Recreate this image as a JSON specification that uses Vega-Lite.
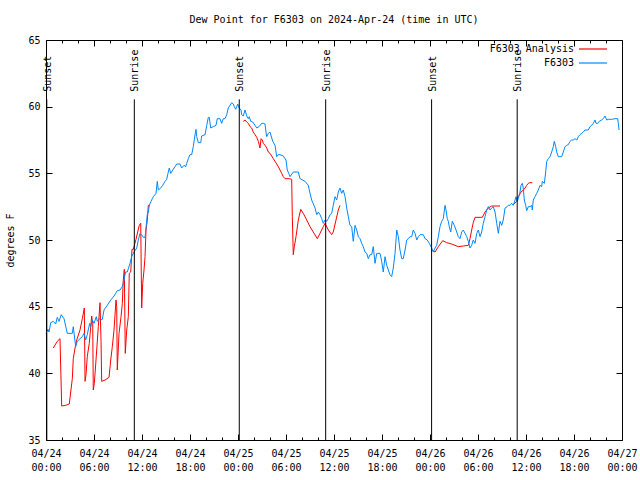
{
  "$schema": "https://vega.github.io/schema/vega-lite/v6.json",
  "width": 576,
  "height": 400,
  "autosize": {"type": "none"},
  "padding": {"left": 46, "top": 40, "right": 18, "bottom": 40},
  "background": "white",
  "title": {"text": "Dew Point for F6303 on 2024-Apr-24 (time in UTC)", "font": "DejaVu Sans Mono", "fontSize": 10, "fontWeight": "normal", "color": "black", "offset": 10},
  "config": {
    "view": {"stroke": "black", "strokeWidth": 1},
    "axis": {"domain": false, "grid": false, "labelFont": "DejaVu Sans Mono", "labelFontSize": 10, "labelColor": "black", "titleFont": "DejaVu Sans Mono", "titleFontSize": 10, "titleFontWeight": "normal", "titleColor": "black", "tickColor": "black"},
    "legend": {"labelFont": "DejaVu Sans Mono", "labelFontSize": 10, "labelColor": "black"}
  },
  "datasets": {
    "obs": [
      {"s":"F6303 Analysis","g":"a1","h":0.91,"v":41.9},{"s":"F6303 Analysis","g":"a1","h":1.41,"v":42.4},{"s":"F6303 Analysis","g":"a1","h":1.75,"v":42.6},{"s":"F6303 Analysis","g":"a1","h":1.96,"v":37.55},{"s":"F6303 Analysis","g":"a1","h":2.46,"v":37.6},{"s":"F6303 Analysis","g":"a1","h":2.91,"v":37.7},{"s":"F6303 Analysis","g":"a1","h":3.09,"v":38.6},{"s":"F6303 Analysis","g":"a1","h":3.29,"v":39.6},{"s":"F6303 Analysis","g":"a1","h":3.41,"v":41.1},{"s":"F6303 Analysis","g":"a1","h":3.63,"v":41.9},{"s":"F6303 Analysis","g":"a1","h":3.84,"v":42.5},{"s":"F6303 Analysis","g":"a1","h":4.25,"v":43.25},{"s":"F6303 Analysis","g":"a1","h":4.54,"v":44.1},{"s":"F6303 Analysis","g":"a1","h":4.79,"v":44.9},{"s":"F6303 Analysis","g":"a1","h":4.88,"v":39.4},{"s":"F6303 Analysis","g":"a1","h":5.0,"v":39.9},{"s":"F6303 Analysis","g":"a1","h":5.16,"v":41.25},{"s":"F6303 Analysis","g":"a1","h":5.41,"v":42.25},{"s":"F6303 Analysis","g":"a1","h":5.71,"v":44.3},{"s":"F6303 Analysis","g":"a1","h":5.84,"v":43.75},{"s":"F6303 Analysis","g":"a1","h":5.91,"v":38.75},{"s":"F6303 Analysis","g":"a1","h":6.04,"v":39.25},{"s":"F6303 Analysis","g":"a1","h":6.25,"v":41.0},{"s":"F6303 Analysis","g":"a1","h":6.54,"v":43.5},{"s":"F6303 Analysis","g":"a1","h":6.75,"v":45.3},{"s":"F6303 Analysis","g":"a1","h":6.88,"v":42.4},{"s":"F6303 Analysis","g":"a1","h":6.96,"v":39.4},{"s":"F6303 Analysis","g":"a1","h":7.38,"v":39.5},{"s":"F6303 Analysis","g":"a1","h":7.88,"v":39.7},{"s":"F6303 Analysis","g":"a1","h":8.09,"v":41.0},{"s":"F6303 Analysis","g":"a1","h":8.29,"v":42.0},{"s":"F6303 Analysis","g":"a1","h":8.5,"v":43.25},{"s":"F6303 Analysis","g":"a1","h":8.75,"v":45.5},{"s":"F6303 Analysis","g":"a1","h":8.84,"v":45.0},{"s":"F6303 Analysis","g":"a1","h":8.91,"v":40.25},{"s":"F6303 Analysis","g":"a1","h":9.13,"v":43.0},{"s":"F6303 Analysis","g":"a1","h":9.38,"v":44.25},{"s":"F6303 Analysis","g":"a1","h":9.54,"v":45.25},{"s":"F6303 Analysis","g":"a1","h":9.66,"v":47.0},{"s":"F6303 Analysis","g":"a1","h":9.79,"v":47.8},{"s":"F6303 Analysis","g":"a1","h":9.91,"v":41.5},{"s":"F6303 Analysis","g":"a1","h":10.09,"v":43.25},{"s":"F6303 Analysis","g":"a1","h":10.29,"v":44.25},{"s":"F6303 Analysis","g":"a1","h":10.41,"v":47.5},{"s":"F6303 Analysis","g":"a1","h":10.59,"v":47.6},{"s":"F6303 Analysis","g":"a1","h":10.75,"v":49.3},{"s":"F6303 Analysis","g":"a1","h":10.91,"v":49.3},{"s":"F6303 Analysis","g":"a1","h":11.09,"v":49.7},{"s":"F6303 Analysis","g":"a1","h":11.25,"v":50.05},{"s":"F6303 Analysis","g":"a1","h":11.46,"v":50.6},{"s":"F6303 Analysis","g":"a1","h":11.66,"v":51.1},{"s":"F6303 Analysis","g":"a1","h":11.84,"v":51.25},{"s":"F6303 Analysis","g":"a1","h":11.96,"v":44.9},{"s":"F6303 Analysis","g":"a1","h":12.09,"v":46.75},{"s":"F6303 Analysis","g":"a1","h":12.25,"v":47.75},{"s":"F6303 Analysis","g":"a1","h":12.38,"v":48.75},{"s":"F6303 Analysis","g":"a1","h":12.5,"v":50.75},{"s":"F6303 Analysis","g":"a1","h":12.66,"v":51.45},{"s":"F6303 Analysis","g":"a1","h":12.79,"v":52.6},{"s":"F6303 Analysis","g":"a1","h":13.0,"v":52.6},
      {"s":"F6303 Analysis","g":"a2","h":24.66,"v":58.9},{"s":"F6303 Analysis","g":"a2","h":24.88,"v":59.0},{"s":"F6303 Analysis","g":"a2","h":25.09,"v":58.85},{"s":"F6303 Analysis","g":"a2","h":25.29,"v":58.75},{"s":"F6303 Analysis","g":"a2","h":25.5,"v":58.5},{"s":"F6303 Analysis","g":"a2","h":25.71,"v":58.4},{"s":"F6303 Analysis","g":"a2","h":25.91,"v":58.1},{"s":"F6303 Analysis","g":"a2","h":26.13,"v":57.9},{"s":"F6303 Analysis","g":"a2","h":26.34,"v":57.7},{"s":"F6303 Analysis","g":"a2","h":26.54,"v":57.4},{"s":"F6303 Analysis","g":"a2","h":26.75,"v":56.9},{"s":"F6303 Analysis","g":"a2","h":26.88,"v":57.6},{"s":"F6303 Analysis","g":"a2","h":27.04,"v":57.5},{"s":"F6303 Analysis","g":"a2","h":27.16,"v":57.25},{"s":"F6303 Analysis","g":"a2","h":27.38,"v":57.1},{"s":"F6303 Analysis","g":"a2","h":27.59,"v":56.9},{"s":"F6303 Analysis","g":"a2","h":27.79,"v":56.6},{"s":"F6303 Analysis","g":"a2","h":28.0,"v":56.5},{"s":"F6303 Analysis","g":"a2","h":28.21,"v":56.3},{"s":"F6303 Analysis","g":"a2","h":28.41,"v":56.1},{"s":"F6303 Analysis","g":"a2","h":28.63,"v":55.9},{"s":"F6303 Analysis","g":"a2","h":28.84,"v":55.7},{"s":"F6303 Analysis","g":"a2","h":29.04,"v":55.5},{"s":"F6303 Analysis","g":"a2","h":29.25,"v":55.25},{"s":"F6303 Analysis","g":"a2","h":29.46,"v":55.0},{"s":"F6303 Analysis","g":"a2","h":29.66,"v":54.75},{"s":"F6303 Analysis","g":"a2","h":29.88,"v":54.6},{"s":"F6303 Analysis","g":"a2","h":30.41,"v":54.6},{"s":"F6303 Analysis","g":"a2","h":30.71,"v":54.55},{"s":"F6303 Analysis","g":"a2","h":30.79,"v":51.75},{"s":"F6303 Analysis","g":"a2","h":30.91,"v":48.9},{"s":"F6303 Analysis","g":"a2","h":31.04,"v":49.5},{"s":"F6303 Analysis","g":"a2","h":31.25,"v":50.25},{"s":"F6303 Analysis","g":"a2","h":31.54,"v":51.5},{"s":"F6303 Analysis","g":"a2","h":31.84,"v":52.3},{"s":"F6303 Analysis","g":"a2","h":32.16,"v":52.0},{"s":"F6303 Analysis","g":"a2","h":32.59,"v":51.5},{"s":"F6303 Analysis","g":"a2","h":33.0,"v":51.0},{"s":"F6303 Analysis","g":"a2","h":33.41,"v":50.6},{"s":"F6303 Analysis","g":"a2","h":33.91,"v":50.1},{"s":"F6303 Analysis","g":"a2","h":34.25,"v":50.5},{"s":"F6303 Analysis","g":"a2","h":34.66,"v":51.0},{"s":"F6303 Analysis","g":"a2","h":34.88,"v":51.25},{"s":"F6303 Analysis","g":"a2","h":35.29,"v":50.75},{"s":"F6303 Analysis","g":"a2","h":35.71,"v":50.4},{"s":"F6303 Analysis","g":"a2","h":35.91,"v":50.6},{"s":"F6303 Analysis","g":"a2","h":36.25,"v":51.5},{"s":"F6303 Analysis","g":"a2","h":36.54,"v":52.25},{"s":"F6303 Analysis","g":"a2","h":36.75,"v":52.6},
      {"s":"F6303 Analysis","g":"a3","h":48.34,"v":49.2},{"s":"F6303 Analysis","g":"a3","h":48.63,"v":49.1},{"s":"F6303 Analysis","g":"a3","h":49.04,"v":49.5},{"s":"F6303 Analysis","g":"a3","h":49.59,"v":49.95},{"s":"F6303 Analysis","g":"a3","h":50.09,"v":49.8},{"s":"F6303 Analysis","g":"a3","h":50.71,"v":49.7},{"s":"F6303 Analysis","g":"a3","h":51.54,"v":49.5},{"s":"F6303 Analysis","g":"a3","h":52.16,"v":49.55},{"s":"F6303 Analysis","g":"a3","h":52.79,"v":49.6},{"s":"F6303 Analysis","g":"a3","h":53.0,"v":50.1},{"s":"F6303 Analysis","g":"a3","h":53.21,"v":50.75},{"s":"F6303 Analysis","g":"a3","h":53.41,"v":51.3},{"s":"F6303 Analysis","g":"a3","h":53.63,"v":51.7},{"s":"F6303 Analysis","g":"a3","h":54.25,"v":51.7},{"s":"F6303 Analysis","g":"a3","h":54.54,"v":51.7},{"s":"F6303 Analysis","g":"a3","h":54.88,"v":52.1},{"s":"F6303 Analysis","g":"a3","h":55.29,"v":52.4},{"s":"F6303 Analysis","g":"a3","h":55.71,"v":52.55},{"s":"F6303 Analysis","g":"a3","h":56.75,"v":52.55},
      {"s":"F6303 Analysis","g":"a4","h":58.5,"v":52.7},{"s":"F6303 Analysis","g":"a4","h":58.84,"v":52.9},{"s":"F6303 Analysis","g":"a4","h":59.04,"v":53.25},{"s":"F6303 Analysis","g":"a4","h":59.38,"v":53.6},{"s":"F6303 Analysis","g":"a4","h":59.66,"v":53.75},{"s":"F6303 Analysis","g":"a4","h":59.88,"v":53.9},{"s":"F6303 Analysis","g":"a4","h":60.09,"v":54.1},{"s":"F6303 Analysis","g":"a4","h":60.29,"v":54.25},{"s":"F6303 Analysis","g":"a4","h":60.5,"v":54.3},{"s":"F6303 Analysis","g":"a4","h":60.79,"v":54.3},
      {"s":"F6303","g":"b","h":0.0,"v":43.0},{"s":"F6303","g":"b","h":0.25,"v":43.3},{"s":"F6303","g":"b","h":0.38,"v":43.1},{"s":"F6303","g":"b","h":0.59,"v":43.8},{"s":"F6303","g":"b","h":0.91,"v":43.9},{"s":"F6303","g":"b","h":1.21,"v":43.7},{"s":"F6303","g":"b","h":1.41,"v":44.2},{"s":"F6303","g":"b","h":1.63,"v":43.9},{"s":"F6303","g":"b","h":1.91,"v":44.4},{"s":"F6303","g":"b","h":2.25,"v":44.1},{"s":"F6303","g":"b","h":2.66,"v":43.0},{"s":"F6303","g":"b","h":3.29,"v":43.0},{"s":"F6303","g":"b","h":3.41,"v":43.5},{"s":"F6303","g":"b","h":3.71,"v":42.0},{"s":"F6303","g":"b","h":3.91,"v":42.4},{"s":"F6303","g":"b","h":4.25,"v":42.6},{"s":"F6303","g":"b","h":4.54,"v":42.75},{"s":"F6303","g":"b","h":4.75,"v":43.0},{"s":"F6303","g":"b","h":4.96,"v":42.5},{"s":"F6303","g":"b","h":5.16,"v":42.9},{"s":"F6303","g":"b","h":5.46,"v":43.75},{"s":"F6303","g":"b","h":5.59,"v":43.5},{"s":"F6303","g":"b","h":5.79,"v":44.0},{"s":"F6303","g":"b","h":6.0,"v":43.75},{"s":"F6303","g":"b","h":6.29,"v":44.25},{"s":"F6303","g":"b","h":6.41,"v":43.9},{"s":"F6303","g":"b","h":6.63,"v":44.1},{"s":"F6303","g":"b","h":6.84,"v":44.0},{"s":"F6303","g":"b","h":7.04,"v":44.05},{"s":"F6303","g":"b","h":7.25,"v":44.75},{"s":"F6303","g":"b","h":7.66,"v":45.1},{"s":"F6303","g":"b","h":8.09,"v":45.5},{"s":"F6303","g":"b","h":8.5,"v":45.8},{"s":"F6303","g":"b","h":8.71,"v":46.0},{"s":"F6303","g":"b","h":8.91,"v":46.2},{"s":"F6303","g":"b","h":9.25,"v":46.25},{"s":"F6303","g":"b","h":9.54,"v":46.5},{"s":"F6303","g":"b","h":9.75,"v":47.0},{"s":"F6303","g":"b","h":9.94,"v":47.6},{"s":"F6303","g":"b","h":10.16,"v":47.6},{"s":"F6303","g":"b","h":10.5,"v":48.25},{"s":"F6303","g":"b","h":10.71,"v":48.75},{"s":"F6303","g":"b","h":11.0,"v":49.1},{"s":"F6303","g":"b","h":11.34,"v":49.4},{"s":"F6303","g":"b","h":11.54,"v":50.0},{"s":"F6303","g":"b","h":11.75,"v":50.5},{"s":"F6303","g":"b","h":11.96,"v":50.4},{"s":"F6303","g":"b","h":12.16,"v":50.2},{"s":"F6303","g":"b","h":12.38,"v":50.2},{"s":"F6303","g":"b","h":12.5,"v":50.9},{"s":"F6303","g":"b","h":12.66,"v":51.9},{"s":"F6303","g":"b","h":12.79,"v":52.1},{"s":"F6303","g":"b","h":12.91,"v":52.6},{"s":"F6303","g":"b","h":13.13,"v":52.9},{"s":"F6303","g":"b","h":13.29,"v":53.1},{"s":"F6303","g":"b","h":13.41,"v":53.25},{"s":"F6303","g":"b","h":13.75,"v":53.5},{"s":"F6303","g":"b","h":13.91,"v":54.4},{"s":"F6303","g":"b","h":14.04,"v":53.75},{"s":"F6303","g":"b","h":14.34,"v":53.9},{"s":"F6303","g":"b","h":14.59,"v":54.1},{"s":"F6303","g":"b","h":14.88,"v":54.4},{"s":"F6303","g":"b","h":15.09,"v":54.55},{"s":"F6303","g":"b","h":15.21,"v":54.9},{"s":"F6303","g":"b","h":15.41,"v":55.4},{"s":"F6303","g":"b","h":15.59,"v":55.0},{"s":"F6303","g":"b","h":15.84,"v":55.25},{"s":"F6303","g":"b","h":16.13,"v":55.5},{"s":"F6303","g":"b","h":16.34,"v":55.7},{"s":"F6303","g":"b","h":16.75,"v":55.7},{"s":"F6303","g":"b","h":16.96,"v":55.4},{"s":"F6303","g":"b","h":17.25,"v":55.6},{"s":"F6303","g":"b","h":17.46,"v":55.5},{"s":"F6303","g":"b","h":17.59,"v":55.75},{"s":"F6303","g":"b","h":17.79,"v":56.1},{"s":"F6303","g":"b","h":18.0,"v":56.4},{"s":"F6303","g":"b","h":18.21,"v":56.4},{"s":"F6303","g":"b","h":18.41,"v":57.0},{"s":"F6303","g":"b","h":18.63,"v":57.9},{"s":"F6303","g":"b","h":18.75,"v":58.3},{"s":"F6303","g":"b","h":18.84,"v":57.75},{"s":"F6303","g":"b","h":19.04,"v":57.3},{"s":"F6303","g":"b","h":19.34,"v":57.3},{"s":"F6303","g":"b","h":19.46,"v":57.8},{"s":"F6303","g":"b","h":19.88,"v":57.9},{"s":"F6303","g":"b","h":20.09,"v":58.6},{"s":"F6303","g":"b","h":20.29,"v":59.2},{"s":"F6303","g":"b","h":20.41,"v":59.2},{"s":"F6303","g":"b","h":20.59,"v":58.4},{"s":"F6303","g":"b","h":20.91,"v":58.5},{"s":"F6303","g":"b","h":21.25,"v":58.6},{"s":"F6303","g":"b","h":21.41,"v":59.1},{"s":"F6303","g":"b","h":21.75,"v":59.1},{"s":"F6303","g":"b","h":21.96,"v":58.75},{"s":"F6303","g":"b","h":22.16,"v":59.1},{"s":"F6303","g":"b","h":22.38,"v":59.1},{"s":"F6303","g":"b","h":22.59,"v":59.4},{"s":"F6303","g":"b","h":22.79,"v":59.9},{"s":"F6303","g":"b","h":23.0,"v":60.1},{"s":"F6303","g":"b","h":23.21,"v":60.3},{"s":"F6303","g":"b","h":23.41,"v":60.2},{"s":"F6303","g":"b","h":23.54,"v":60.0},{"s":"F6303","g":"b","h":23.71,"v":59.8},{"s":"F6303","g":"b","h":23.84,"v":60.0},{"s":"F6303","g":"b","h":23.96,"v":60.2},{"s":"F6303","g":"b","h":24.16,"v":59.9},{"s":"F6303","g":"b","h":24.38,"v":59.75},{"s":"F6303","g":"b","h":24.46,"v":59.4},{"s":"F6303","g":"b","h":24.66,"v":59.3},{"s":"F6303","g":"b","h":24.88,"v":59.75},{"s":"F6303","g":"b","h":25.09,"v":59.3},{"s":"F6303","g":"b","h":25.29,"v":59.1},{"s":"F6303","g":"b","h":25.41,"v":59.25},{"s":"F6303","g":"b","h":25.59,"v":58.9},{"s":"F6303","g":"b","h":25.84,"v":58.85},{"s":"F6303","g":"b","h":26.13,"v":58.6},{"s":"F6303","g":"b","h":26.34,"v":58.4},{"s":"F6303","g":"b","h":26.63,"v":58.5},{"s":"F6303","g":"b","h":26.96,"v":58.75},{"s":"F6303","g":"b","h":27.16,"v":58.75},{"s":"F6303","g":"b","h":27.38,"v":58.7},{"s":"F6303","g":"b","h":27.5,"v":58.1},{"s":"F6303","g":"b","h":27.59,"v":57.75},{"s":"F6303","g":"b","h":27.79,"v":58.0},{"s":"F6303","g":"b","h":28.0,"v":58.1},{"s":"F6303","g":"b","h":28.34,"v":57.4},{"s":"F6303","g":"b","h":28.63,"v":57.1},{"s":"F6303","g":"b","h":28.84,"v":56.25},{"s":"F6303","g":"b","h":29.04,"v":56.4},{"s":"F6303","g":"b","h":29.25,"v":56.4},{"s":"F6303","g":"b","h":29.66,"v":56.3},{"s":"F6303","g":"b","h":30.0,"v":56.0},{"s":"F6303","g":"b","h":30.16,"v":55.25},{"s":"F6303","g":"b","h":30.41,"v":54.9},{"s":"F6303","g":"b","h":30.5,"v":54.75},{"s":"F6303","g":"b","h":30.91,"v":55.1},{"s":"F6303","g":"b","h":31.54,"v":55.1},{"s":"F6303","g":"b","h":31.75,"v":54.6},{"s":"F6303","g":"b","h":32.38,"v":54.4},{"s":"F6303","g":"b","h":32.79,"v":54.1},{"s":"F6303","g":"b","h":33.0,"v":53.5},{"s":"F6303","g":"b","h":33.21,"v":53.0},{"s":"F6303","g":"b","h":33.63,"v":52.4},{"s":"F6303","g":"b","h":33.84,"v":51.9},{"s":"F6303","g":"b","h":34.04,"v":52.1},{"s":"F6303","g":"b","h":34.25,"v":51.9},{"s":"F6303","g":"b","h":34.46,"v":51.6},{"s":"F6303","g":"b","h":34.66,"v":51.25},{"s":"F6303","g":"b","h":34.88,"v":51.5},{"s":"F6303","g":"b","h":35.09,"v":51.4},{"s":"F6303","g":"b","h":35.29,"v":51.6},{"s":"F6303","g":"b","h":35.5,"v":51.9},{"s":"F6303","g":"b","h":35.71,"v":52.0},{"s":"F6303","g":"b","h":35.91,"v":52.6},{"s":"F6303","g":"b","h":36.13,"v":53.25},{"s":"F6303","g":"b","h":36.34,"v":53.0},{"s":"F6303","g":"b","h":36.54,"v":53.6},{"s":"F6303","g":"b","h":36.75,"v":53.9},{"s":"F6303","g":"b","h":36.96,"v":53.5},{"s":"F6303","g":"b","h":37.16,"v":53.75},{"s":"F6303","g":"b","h":37.38,"v":53.25},{"s":"F6303","g":"b","h":37.59,"v":52.4},{"s":"F6303","g":"b","h":37.79,"v":51.75},{"s":"F6303","g":"b","h":38.0,"v":51.1},{"s":"F6303","g":"b","h":38.21,"v":51.0},{"s":"F6303","g":"b","h":38.41,"v":49.9},{"s":"F6303","g":"b","h":38.63,"v":51.1},{"s":"F6303","g":"b","h":38.84,"v":50.75},{"s":"F6303","g":"b","h":39.04,"v":50.25},{"s":"F6303","g":"b","h":39.25,"v":50.1},{"s":"F6303","g":"b","h":39.46,"v":49.75},{"s":"F6303","g":"b","h":39.66,"v":49.5},{"s":"F6303","g":"b","h":39.88,"v":49.1},{"s":"F6303","g":"b","h":40.09,"v":49.0},{"s":"F6303","g":"b","h":40.29,"v":48.6},{"s":"F6303","g":"b","h":40.5,"v":48.9},{"s":"F6303","g":"b","h":40.71,"v":48.9},{"s":"F6303","g":"b","h":40.91,"v":49.5},{"s":"F6303","g":"b","h":41.13,"v":48.25},{"s":"F6303","g":"b","h":41.34,"v":49.0},{"s":"F6303","g":"b","h":41.75,"v":49.0},{"s":"F6303","g":"b","h":41.96,"v":48.4},{"s":"F6303","g":"b","h":42.16,"v":47.6},{"s":"F6303","g":"b","h":42.38,"v":48.75},{"s":"F6303","g":"b","h":42.59,"v":48.1},{"s":"F6303","g":"b","h":42.79,"v":47.75},{"s":"F6303","g":"b","h":43.0,"v":47.4},{"s":"F6303","g":"b","h":43.21,"v":47.25},{"s":"F6303","g":"b","h":43.41,"v":47.9},{"s":"F6303","g":"b","h":43.63,"v":49.0},{"s":"F6303","g":"b","h":43.84,"v":50.75},{"s":"F6303","g":"b","h":44.04,"v":50.25},{"s":"F6303","g":"b","h":44.25,"v":49.25},{"s":"F6303","g":"b","h":44.46,"v":48.6},{"s":"F6303","g":"b","h":44.66,"v":48.6},{"s":"F6303","g":"b","h":44.88,"v":49.25},{"s":"F6303","g":"b","h":45.09,"v":50.0},{"s":"F6303","g":"b","h":45.29,"v":50.1},{"s":"F6303","g":"b","h":45.5,"v":50.25},{"s":"F6303","g":"b","h":45.71,"v":50.25},{"s":"F6303","g":"b","h":45.91,"v":50.75},{"s":"F6303","g":"b","h":46.13,"v":50.5},{"s":"F6303","g":"b","h":46.34,"v":50.0},{"s":"F6303","g":"b","h":46.54,"v":50.25},{"s":"F6303","g":"b","h":46.75,"v":50.4},{"s":"F6303","g":"b","h":47.16,"v":50.4},{"s":"F6303","g":"b","h":47.38,"v":50.1},{"s":"F6303","g":"b","h":47.66,"v":50.0},{"s":"F6303","g":"b","h":47.91,"v":49.75},{"s":"F6303","g":"b","h":48.21,"v":49.4},{"s":"F6303","g":"b","h":48.41,"v":49.1},{"s":"F6303","g":"b","h":48.63,"v":49.4},{"s":"F6303","g":"b","h":48.84,"v":49.6},{"s":"F6303","g":"b","h":49.04,"v":50.25},{"s":"F6303","g":"b","h":49.25,"v":51.0},{"s":"F6303","g":"b","h":49.46,"v":51.4},{"s":"F6303","g":"b","h":49.66,"v":51.6},{"s":"F6303","g":"b","h":49.88,"v":52.6},{"s":"F6303","g":"b","h":50.0,"v":52.25},{"s":"F6303","g":"b","h":50.16,"v":51.6},{"s":"F6303","g":"b","h":50.29,"v":51.4},{"s":"F6303","g":"b","h":50.41,"v":51.0},{"s":"F6303","g":"b","h":50.59,"v":50.6},{"s":"F6303","g":"b","h":50.79,"v":51.4},{"s":"F6303","g":"b","h":51.04,"v":51.1},{"s":"F6303","g":"b","h":51.25,"v":50.75},{"s":"F6303","g":"b","h":51.54,"v":50.25},{"s":"F6303","g":"b","h":51.75,"v":50.1},{"s":"F6303","g":"b","h":51.96,"v":50.6},{"s":"F6303","g":"b","h":52.16,"v":50.75},{"s":"F6303","g":"b","h":52.38,"v":50.5},{"s":"F6303","g":"b","h":52.59,"v":50.25},{"s":"F6303","g":"b","h":52.79,"v":49.9},{"s":"F6303","g":"b","h":53.0,"v":49.4},{"s":"F6303","g":"b","h":53.21,"v":49.6},{"s":"F6303","g":"b","h":53.41,"v":50.0},{"s":"F6303","g":"b","h":53.63,"v":49.75},{"s":"F6303","g":"b","h":53.84,"v":50.5},{"s":"F6303","g":"b","h":54.04,"v":50.75},{"s":"F6303","g":"b","h":54.25,"v":50.25},{"s":"F6303","g":"b","h":54.46,"v":50.6},{"s":"F6303","g":"b","h":54.66,"v":51.25},{"s":"F6303","g":"b","h":54.88,"v":51.75},{"s":"F6303","g":"b","h":55.09,"v":52.25},{"s":"F6303","g":"b","h":55.29,"v":52.5},{"s":"F6303","g":"b","h":55.5,"v":52.25},{"s":"F6303","g":"b","h":55.71,"v":52.4},{"s":"F6303","g":"b","h":55.91,"v":52.5},{"s":"F6303","g":"b","h":56.13,"v":52.1},{"s":"F6303","g":"b","h":56.34,"v":51.25},{"s":"F6303","g":"b","h":56.54,"v":50.5},{"s":"F6303","g":"b","h":56.75,"v":51.4},{"s":"F6303","g":"b","h":56.96,"v":51.1},{"s":"F6303","g":"b","h":57.16,"v":51.5},{"s":"F6303","g":"b","h":57.38,"v":52.4},{"s":"F6303","g":"b","h":57.66,"v":52.5},{"s":"F6303","g":"b","h":57.79,"v":52.6},{"s":"F6303","g":"b","h":58.0,"v":52.6},{"s":"F6303","g":"b","h":58.21,"v":52.75},{"s":"F6303","g":"b","h":58.41,"v":52.6},{"s":"F6303","g":"b","h":58.63,"v":53.0},{"s":"F6303","g":"b","h":58.75,"v":53.25},{"s":"F6303","g":"b","h":58.88,"v":52.9},{"s":"F6303","g":"b","h":59.04,"v":53.1},{"s":"F6303","g":"b","h":59.25,"v":53.6},{"s":"F6303","g":"b","h":59.38,"v":54.1},{"s":"F6303","g":"b","h":59.54,"v":54.25},{"s":"F6303","g":"b","h":59.66,"v":53.9},{"s":"F6303","g":"b","h":59.79,"v":53.0},{"s":"F6303","g":"b","h":59.96,"v":52.6},{"s":"F6303","g":"b","h":60.09,"v":52.2},{"s":"F6303","g":"b","h":60.29,"v":52.5},{"s":"F6303","g":"b","h":60.5,"v":52.5},{"s":"F6303","g":"b","h":60.71,"v":52.6},{"s":"F6303","g":"b","h":60.79,"v":52.25},{"s":"F6303","g":"b","h":60.91,"v":53.0},{"s":"F6303","g":"b","h":61.13,"v":53.25},{"s":"F6303","g":"b","h":61.34,"v":53.5},{"s":"F6303","g":"b","h":61.54,"v":53.75},{"s":"F6303","g":"b","h":61.75,"v":54.1},{"s":"F6303","g":"b","h":61.96,"v":54.0},{"s":"F6303","g":"b","h":62.04,"v":54.4},{"s":"F6303","g":"b","h":62.29,"v":54.25},{"s":"F6303","g":"b","h":62.46,"v":55.1},{"s":"F6303","g":"b","h":62.59,"v":55.9},{"s":"F6303","g":"b","h":62.79,"v":56.1},{"s":"F6303","g":"b","h":63.0,"v":56.25},{"s":"F6303","g":"b","h":63.21,"v":56.6},{"s":"F6303","g":"b","h":63.41,"v":57.0},{"s":"F6303","g":"b","h":63.54,"v":57.4},{"s":"F6303","g":"b","h":63.71,"v":57.0},{"s":"F6303","g":"b","h":63.84,"v":56.6},{"s":"F6303","g":"b","h":64.04,"v":56.25},{"s":"F6303","g":"b","h":64.46,"v":56.25},{"s":"F6303","g":"b","h":64.66,"v":56.6},{"s":"F6303","g":"b","h":64.88,"v":57.0},{"s":"F6303","g":"b","h":65.09,"v":57.1},{"s":"F6303","g":"b","h":65.29,"v":57.15},{"s":"F6303","g":"b","h":65.5,"v":57.4},{"s":"F6303","g":"b","h":65.71,"v":57.5},{"s":"F6303","g":"b","h":65.91,"v":57.5},{"s":"F6303","g":"b","h":66.13,"v":57.6},{"s":"F6303","g":"b","h":66.34,"v":57.5},{"s":"F6303","g":"b","h":66.54,"v":57.75},{"s":"F6303","g":"b","h":66.75,"v":57.9},{"s":"F6303","g":"b","h":66.96,"v":58.0},{"s":"F6303","g":"b","h":67.16,"v":58.1},{"s":"F6303","g":"b","h":67.38,"v":58.25},{"s":"F6303","g":"b","h":67.79,"v":58.25},{"s":"F6303","g":"b","h":68.0,"v":58.5},{"s":"F6303","g":"b","h":68.21,"v":58.6},{"s":"F6303","g":"b","h":68.41,"v":58.75},{"s":"F6303","g":"b","h":68.63,"v":59.0},{"s":"F6303","g":"b","h":68.75,"v":58.75},{"s":"F6303","g":"b","h":68.96,"v":58.75},{"s":"F6303","g":"b","h":69.16,"v":58.9},{"s":"F6303","g":"b","h":69.46,"v":59.0},{"s":"F6303","g":"b","h":69.66,"v":59.1},{"s":"F6303","g":"b","h":69.88,"v":59.3},{"s":"F6303","g":"b","h":70.09,"v":59.0},{"s":"F6303","g":"b","h":70.29,"v":59.05},{"s":"F6303","g":"b","h":70.71,"v":59.05},{"s":"F6303","g":"b","h":71.13,"v":59.1},{"s":"F6303","g":"b","h":71.46,"v":59.1},{"s":"F6303","g":"b","h":71.54,"v":58.75},{"s":"F6303","g":"b","h":71.63,"v":58.25}
    ],
    "sun": [
      {"h":0.1,"label":"Sunset"},{"h":11.04,"label":"Sunrise"},{"h":24.16,"label":"Sunset"},{"h":34.96,"label":"Sunrise"},{"h":48.2,"label":"Sunset"},{"h":58.9,"label":"Sunrise"}
    ]
  },
  "layer": [
    {
      "data": {"name": "obs"},
      "mark": {"type": "line", "strokeWidth": 1, "interpolate": "linear"},
      "encoding": {
        "x": {"field": "h", "type": "quantitative", "scale": {"domain": [0, 72], "nice": false, "zero": false},
          "axis": {"title": null, "orient": "bottom", "values": [0,2,4,6,8,10,12,14,16,18,20,22,24,26,28,30,32,34,36,38,40,42,44,46,48,50,52,54,56,58,60,62,64,66,68,70,72],
            "labelExpr": "datum.value % 6 != 0 ? '' : [(datum.value < 24 ? '04/24' : datum.value < 48 ? '04/25' : datum.value < 72 ? '04/26' : '04/27'), ((datum.value % 24) < 10 ? '0' : '') + (datum.value % 24) + ':00']",
            "labelOverlap": false, "labelBound": false, "labelFlush": false, "labelLineHeight": 14, "labelPadding": 14,
            "tickSize": {"condition": {"test": "datum.value % 6 == 0", "value": -6}, "value": -3}}},
        "y": {"field": "v", "type": "quantitative", "scale": {"domain": [35, 65], "nice": false, "zero": false},
          "axis": {"title": "degrees F", "orient": "left", "values": [35,40,45,50,55,60,65], "tickSize": -6, "labelPadding": 12, "titlePadding": 12}},
        "color": {"field": "s", "type": "nominal", "scale": {"domain": ["F6303 Analysis", "F6303"], "range": ["#ff0000", "#0088ff"]},
          "legend": {"title": null, "orient": "none", "legendX": 541, "legendY": 3, "symbolType": "M-2.8,0H2.8", "symbolSize": 100, "symbolStrokeWidth": 1.2, "labelAlign": "right", "labelOffset": -25, "rowPadding": 3}},
        "detail": {"field": "g", "type": "nominal"}
      }
    },
    {
      "data": {"name": "sun"},
      "mark": {"type": "rule", "color": "black", "strokeWidth": 1},
      "encoding": {
        "x": {"field": "h", "type": "quantitative",
          "axis": {"title": null, "orient": "top", "labels": false, "values": [0,2,4,6,8,10,12,14,16,18,20,22,24,26,28,30,32,34,36,38,40,42,44,46,48,50,52,54,56,58,60,62,64,66,68,70,72],
            "tickSize": {"condition": {"test": "datum.value % 6 == 0", "value": -6}, "value": -3}}},
        "y": {"datum": 35, "type": "quantitative", "axis": {"title": null, "orient": "right", "labels": false, "values": [35,40,45,50,55,60,65], "tickSize": -6}},
        "y2": {"datum": 60.55}
      }
    },
    {
      "data": {"name": "sun"},
      "mark": {"type": "text", "angle": 270, "align": "left", "baseline": "middle", "font": "DejaVu Sans Mono", "fontSize": 10, "color": "black", "dy": 1},
      "encoding": {
        "x": {"field": "h", "type": "quantitative", "axis": null},
        "y": {"datum": 61.12, "type": "quantitative", "axis": null},
        "text": {"field": "label"}
      }
    }
  ],
  "resolve": {"axis": {"x": "independent", "y": "independent"}}
}
